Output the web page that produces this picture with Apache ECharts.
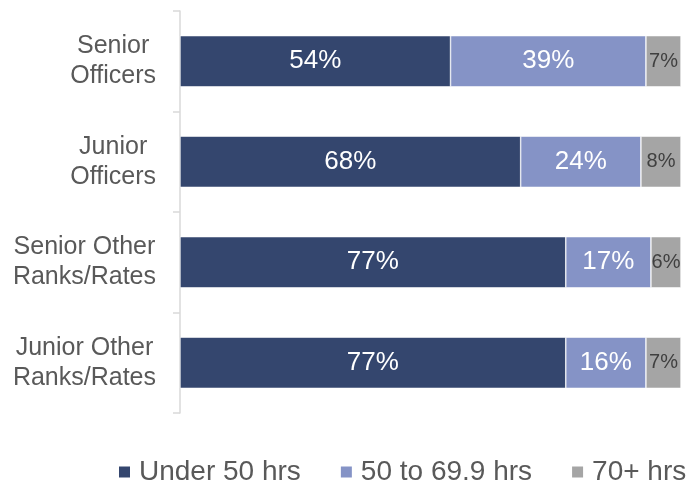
<!DOCTYPE html>
<html>
<head>
<meta charset="utf-8">
<script src="https://cdn.jsdelivr.net/npm/echarts@6/dist/echarts.min.js"></script>
<style>
    html, body { margin: 0; padding: 0; background: #fff; }
    #chart { width: 693px; height: 486px; }
</style>
</head>
<body>
<div id="chart"></div>
<script>
// categories, top to bottom
const categories = ['Senior\nOfficers', 'Junior\nOfficers', 'Senior Other\nRanks/Rates', 'Junior Other\nRanks/Rates']
const seriesNames = ['Under 50 hrs', '50 to 69.9 hrs', '70+ hrs']
const under50 = [54, 68, 77, 77]
const from50to70 = [39, 24, 17, 16]
const over70 = [7, 8, 6, 7]

const FONT = 'Liberation Sans, Arial, sans-serif'
const chart = echarts.init(document.getElementById('chart'))

function makeSeries(name, data, color, labelColor, labelSize) {
    return {
        name: name,
        type: 'bar',
        stack: 'total',
        barWidth: '51%',
        data: data,
        itemStyle: { color: color, borderColor: '#ffffff', borderWidth: 0.6 },
        label: {
            show: true,
            position: 'inside',
            formatter: '{c}%',
            color: labelColor,
            fontFamily: FONT,
            fontSize: labelSize
        },
        emphasis: { disabled: true }
    }
}

const option = {
    animation: false,
    grid: { left: 180, right: 12, top: 11, bottom: 73 },
    legend: {
        data: seriesNames,
        top: 453,
        left: 112,
        icon: 'rect',
        itemWidth: 13,
        itemHeight: 13,
        itemGap: 38,
        textStyle: { color: '#595959', fontFamily: FONT, fontSize: 28, padding: [0, 0, 0, 3] }
    },
    xAxis: {
        type: 'value',
        min: 0,
        max: 100,
        show: false
    },
    yAxis: {
        type: 'category',
        inverse: true,
        data: categories,
        axisLine: { show: true, lineStyle: { color: '#d9d9d9', width: 1.5 } },
        axisTick: { show: true, length: 7, lineStyle: { color: '#d9d9d9', width: 1.5 } },
        axisLabel: {
            color: '#595959',
            fontFamily: FONT,
            fontSize: 25,
            lineHeight: 30,
            align: 'right',
            margin: 24,
            // centre each line inside the right-aligned block
            formatter: (val) => val.split('\n').map((s) => '{c|' + s + '}').join('\n'),
            rich: {
                c: { align: 'center', color: '#595959', fontFamily: FONT, fontSize: 25, lineHeight: 30 }
            }
        }
    },
    series: [
        makeSeries(seriesNames[0], under50, '#34466e', '#ffffff', 26),
        makeSeries(seriesNames[1], from50to70, '#8593c6', '#ffffff', 26),
        makeSeries(seriesNames[2], over70, '#a5a5a5', '#404040', 20)
    ]
}
chart.setOption(option)
</script>
</body>
</html>
